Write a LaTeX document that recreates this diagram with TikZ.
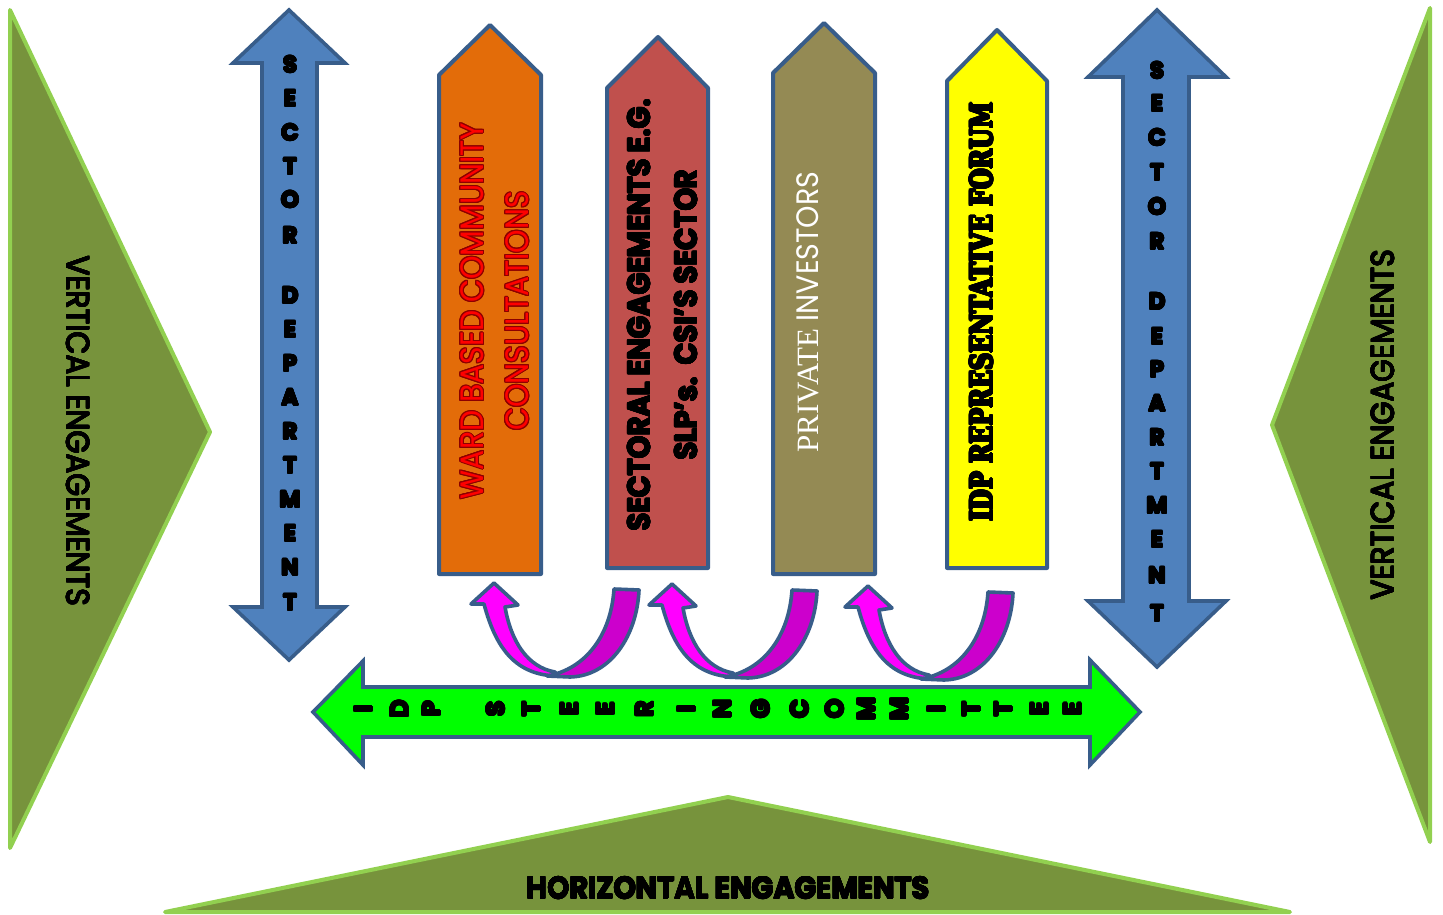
\documentclass[tikz,border=0pt]{standalone}
\usepackage{fontspec}
\usepackage[copies]{contour}
\setmainfont{Liberation Serif}
\newfontfamily\gothic[FakeStretch=0.92]{Poppins}
\newfontfamily\gothicwide{Poppins}
\newfontfamily\slab[FakeStretch=0.78]{DejaVu Serif}
\contournumber{16}
\newcommand{\heavy}[2][0.3pt]{\contourlength{#1}\contour{black}{#2}}
\newcommand{\glow}[1]{\contourlength{0.5pt}\contour{red!55!black}{#1}}

\definecolor{olivefill}{HTML}{77933C}
\definecolor{limeedge}{HTML}{92D050}
\definecolor{steelfill}{HTML}{4F81BD}
\definecolor{steeledge}{HTML}{385D8A}
\definecolor{wardorange}{HTML}{E36C09}
\definecolor{sectorred}{HTML}{C0504D}
\definecolor{investolive}{HTML}{948A54}
\definecolor{forumyellow}{HTML}{FFFF00}
\definecolor{steergreen}{HTML}{00FF00}
\definecolor{curvelight}{HTML}{FF00FF}
\definecolor{curvedark}{HTML}{CC00CC}

\tikzset{
  pics/uturn/.style={code={
    \draw[curveedge, fill=curvelight] (0,0) -- (24,22) -- (11,24)
      .. controls (17,58) and (33,84) .. (61,89) -- (63,93)
      .. controls (22,92) and (2,66) .. (-10,21) -- (-23,21) -- cycle;
    \draw[curveedge, fill=curvedark] (120,6) -- (145,7)
      .. controls (143,52) and (117,93) .. (76,94) -- (53,93)
      .. controls (92,86) and (117,52) .. (120,6) -- cycle;
  }}
}

\begin{document}
\begin{tikzpicture}[x=0.5pt, y=-0.5pt,
    engage/.style={draw=limeedge, fill=olivefill, line width=2pt, line join=round},
    deptarrow/.style={draw=steeledge, fill=steelfill, line width=1.8pt},
    block/.style={draw=steeledge, line width=2pt, line join=round},
    curveedge/.style={draw=steeledge, line width=1.8pt, line join=round},
    sidetext/.style={inner sep=0pt, font=\gothic\fontsize{16}{18}\selectfont},
    deptletter/.style={inner sep=0pt, font=\gothicwide\bfseries\fontsize{11.5}{12}\selectfont},
    steerletter/.style={inner sep=0pt, rotate=90, font=\gothicwide\bfseries\fontsize{12.5}{13}\selectfont},
    uptext/.style={inner sep=0pt, rotate=90, align=center}]
\useasboundingbox (0,0) rectangle (1443,914);
\fill[white] (0,0) rectangle (1443,914);

\draw[engage] (10,10) -- (210,432) -- (10,848) -- cycle;
\draw[engage] (1430,8) -- (1272,425) -- (1430,842) -- cycle;
\draw[engage] (165,912) -- (728,797) -- (1290,912) -- cycle;

\node[sidetext, rotate=-90] (vleft) at (78,431) {\heavy[0.15pt]{VERTICAL ENGAGEMENTS}};
\node[sidetext, rotate=90] (vright) at (1383,425) {\heavy[0.15pt]{VERTICAL ENGAGEMENTS}};
\node[sidetext, font=\gothic\bfseries\fontsize{15.5}{18}\selectfont] (horiz)
  at (728,888) {\heavy[0.2pt]{HORIZONTAL ENGAGEMENTS}};

\draw[deptarrow] (289,10) -- (345,63) -- (317,63) -- (317,607) -- (345,607)
  -- (289,660) -- (233,607) -- (262,607) -- (262,63) -- (233,63) -- cycle;
\draw[deptarrow] (1157,10) -- (1226,77) -- (1189,77) -- (1189,601) -- (1226,601)
  -- (1157,667) -- (1088,601) -- (1123,601) -- (1123,77) -- (1088,77) -- cycle;
\foreach \ch/\yl/\yr [count=\i] in {S/65/71, E/99/104, C/133/138, T/167/173,
    O/200/207, R/236/242, D/296/302, E/330/337, P/364/370, A/398/404,
    R/432/438, T/466/472, M/500/506, E/534/540, N/568/576, T/603/614}{
  \node[deptletter] (dl\i) at (290,\yl) {\heavy[0.45pt]{\ch}};
  \node[deptletter] (dr\i) at (1157,\yr) {\heavy[0.45pt]{\ch}};
}

\draw[block, fill=wardorange] (439,75) -- (490,25) -- (541,75) -- (541,574) -- (439,574) -- cycle;
\draw[block, fill=sectorred] (607,88) -- (658,37) -- (708,88) -- (708,568) -- (607,568) -- cycle;
\draw[block, fill=investolive] (773,73) -- (824,23) -- (875,73) -- (875,574) -- (773,574) -- cycle;
\draw[block, fill=forumyellow] (947,81) -- (997,30) -- (1047,81) -- (1047,568) -- (947,568) -- cycle;

\node[uptext, text=red, font=\gothic\fontsize{16.2}{22.5}\selectfont] (ward)
  at (495,311) {\glow{WARD BASED COMMUNITY}\\\glow{CONSULTATIONS}};
\node[uptext, font=\gothic\bfseries\fontsize{15.7}{23.5}\selectfont] (sectoral)
  at (663,315) {\heavy{SECTORAL ENGAGEMENTS E.G.}\\\heavy{SLP’s.\ \ CSI’S SECTOR}};
\node[uptext, text=white, font=\gothic\fontsize{15.5}{18}\selectfont] (investors)
  at (808,312) {{\rmfamily PRIVATE} INVESTORS};
\node[uptext, font=\slab\bfseries\fontsize{15.2}{18}\selectfont] (forum)
  at (982,312) {\heavy[0.5pt]{IDP REPRESENTATIVE FORUM}};

\pic at (494,583) {uturn};
\pic at (672,584) {uturn};
\pic at (868,586) {uturn};

\draw[deptarrow, fill=steergreen] (313,712) -- (363,661) -- (363,687) -- (1090,687)
  -- (1090,660) -- (1140,712) -- (1090,765) -- (1090,737) -- (363,737) -- (363,765) -- cycle;
\foreach \ch/\x [count=\i] in {I/364, D/400, P/432, S/496, T/532, E/570, E/606,
    R/645, I/687, N/723, G/761, C/800, O/835, M/867, M/900, I/937, T/972,
    T/1004, E/1040, E/1073}
  \node[steerletter] (st\i) at (\x,709) {\heavy[0.45pt]{\ch}};
\end{tikzpicture}
\end{document}
